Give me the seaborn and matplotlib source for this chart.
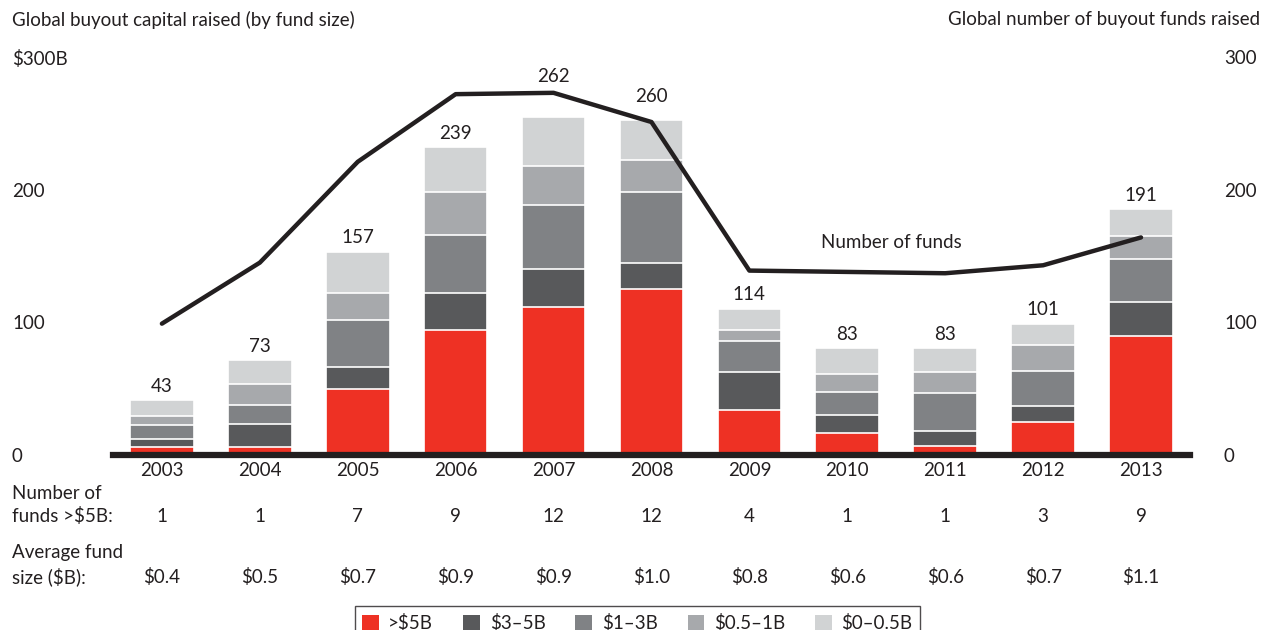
import numpy as np
import pandas as pd
import matplotlib.pyplot as plt
import matplotlib.patches as mpatches
from matplotlib.transforms import blended_transform_factory
import seaborn as sns

# data ($B per fund-size bucket)
years = ['2003', '2004', '2005', '2006', '2007', '2008', '2009', '2010', '2011', '2012', '2013']
cap_over5 = [5.7, 5.8, 49.5, 93.9, 111.2, 125.5, 33.9, 16.3, 7.0, 25.1, 89.8]
cap_3to5 = [6.3, 17.5, 17.0, 27.9, 28.8, 19.3, 28.8, 13.6, 10.8, 11.8, 25.6]
cap_1to3 = [10.5, 14.3, 35.4, 43.7, 48.2, 53.2, 23.3, 17.5, 29.1, 26.6, 32.7]
cap_05to1 = [7.0, 15.6, 20.3, 32.4, 29.4, 24.1, 8.1, 13.6, 15.6, 19.4, 17.3]
cap_0to05 = [11.8, 18.3, 30.9, 34.1, 37.1, 30.1, 16.3, 19.4, 18.1, 15.8, 19.8]
total_labels = [43, 73, 157, 239, 262, 260, 114, 83, 83, 101, 191]
num_funds = [99, 145, 221, 272, 273, 251, 139, 138, 137, 143, 164]
big_funds = [1, 1, 7, 9, 12, 12, 4, 1, 1, 3, 9]
avg_size = [0.4, 0.5, 0.7, 0.9, 0.9, 1.0, 0.8, 0.6, 0.6, 0.7, 1.1]

segments = ['>$5B', '$3–5B', '$1–3B', '$0.5–1B', '$0–0.5B']
colors = ['#ee3124', '#58595b', '#808285', '#a7a9ac', '#d1d3d4']
ink = '#231f20'
fs = 13.5

sns.set_theme(style='white')
plt.rcParams['font.family'] = ['Lato', 'DejaVu Sans']
plt.rcParams['font.size'] = fs
plt.rcParams['text.color'] = ink

df = pd.DataFrame({segments[0]: cap_over5, segments[1]: cap_3to5, segments[2]: cap_1to3,
                   segments[3]: cap_05to1, segments[4]: cap_0to05}, index=years)
cum = df.cumsum(axis=1)

fig = plt.figure(figsize=(12.72, 6.3), dpi=100)
ax = fig.add_axes([0.0888, 0.2778, 0.8467, 0.6317])

# stacked bars: draw cumulative heights from the top segment down
for seg, c in reversed(list(zip(segments, colors))):
    sns.barplot(x=years, y=cum[seg].values, color=c, saturation=1, width=0.65,
                edgecolor='white', linewidth=1.2, errorbar=None, ax=ax)

# totals above bars (2007/2008 pushed up to clear the line)
pads = [4, 4, 4, 4, 23, 11, 4, 4, 4, 4, 4]
for i, p in enumerate(ax.containers[0].patches):
    ax.annotate(str(total_labels[i]), (p.get_x() + p.get_width() / 2, p.get_height()),
                xytext=(0, pads[i]), textcoords='offset points', ha='center', va='bottom',
                fontsize=fs)

ax.set_ylim(0, 300)
ax.set_xlim(-0.5, len(years) - 0.5)
ax.set_yticks([0, 100, 200, 300])
ax.set_yticklabels(['0', '100', '200', '$300B'])
for lab in ax.get_yticklabels():
    lab.set_ha('left')
ax.tick_params(axis='y', length=0, pad=72.7, labelsize=fs, colors=ink)
ax.tick_params(axis='x', length=0, pad=5, labelsize=fs, colors=ink)
ax.set_xlabel('')
ax.set_ylabel('')
sns.despine(ax=ax, left=True, right=True, top=True)
ax.spines['bottom'].set_linewidth(4.5)
ax.spines['bottom'].set_color(ink)
ax.spines['bottom'].set_zorder(5)

# number of funds on the right axis
ax2 = ax.twinx()
sns.lineplot(x=np.arange(len(years)), y=num_funds, color=ink, linewidth=3.2, ax=ax2)
ax2.set_ylim(0, 300)
ax2.set_xlim(-0.5, len(years) - 0.5)
ax2.set_yticks([0, 100, 200, 300])
ax2.tick_params(axis='y', length=0, pad=24.5, labelsize=fs, colors=ink)
ax2.set_ylabel('')
for s in ax2.spines.values():
    s.set_visible(False)
ax2.text(7.45, 160, 'Number of funds', ha='center', va='center', fontsize=fs)

# titles
fig.text(0.0094, 1 - 20 / 630, 'Global buyout capital raised (by fund size)', ha='left', va='center', fontsize=fs)
fig.text(0.991, 1 - 20 / 630, 'Global number of buyout funds raised', ha='right', va='center', fontsize=fs)

# rows under the axis
tr = blended_transform_factory(ax.transData, fig.transFigure)
fig.text(0.0094, 1 - 505 / 630, 'Number of\nfunds >$5B:', ha='left', va='center', linespacing=1.35, fontsize=fs)
fig.text(0.0094, 1 - 565 / 630, 'Average fund\nsize ($B):', ha='left', va='center', linespacing=1.35, fontsize=fs)
for i in range(len(years)):
    ax.text(i, 1 - 517 / 630, str(big_funds[i]), transform=tr, ha='center', va='center', fontsize=fs)
    ax.text(i, 1 - 577 / 630, f'${avg_size[i]:.1f}', transform=tr, ha='center', va='center', fontsize=fs)

handles = [mpatches.Patch(facecolor=c, edgecolor='none', label=s) for s, c in zip(segments, colors)]
leg = fig.legend(handles=handles, ncol=5, loc='upper center', bbox_to_anchor=(0.501, 1 - 597 / 630),
                 frameon=True, fancybox=False, edgecolor=ink, handlelength=0.9, handleheight=0.9,
                 handletextpad=0.5, columnspacing=1.6, borderpad=0.4, fontsize=fs)
leg.get_frame().set_linewidth(1.0)

fig.savefig('out.png', dpi=100)
